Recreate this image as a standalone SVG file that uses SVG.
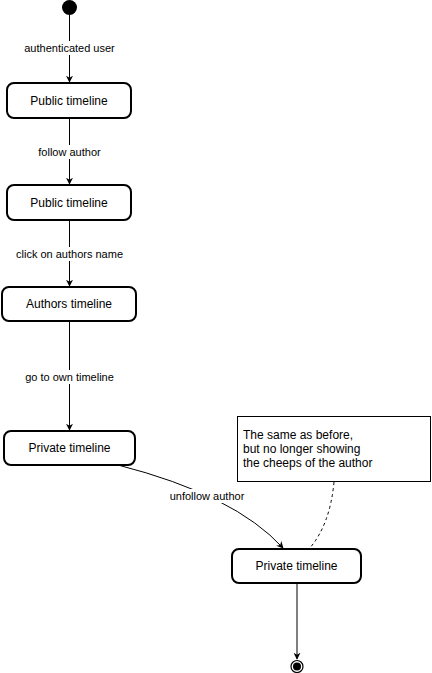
<svg xmlns="http://www.w3.org/2000/svg" width="432" height="673" viewBox="0 0 432 673">
<style>
.node rect{fill:#fff;stroke:#000;stroke-width:2}
.nt{font-family:"Liberation Sans",Arial,sans-serif;font-size:12px;fill:#000;text-anchor:middle;dominant-baseline:central}
.lbl{font-family:"Liberation Sans",Arial,sans-serif;font-size:11px;fill:#000;text-anchor:middle;dominant-baseline:central}
.lb{fill:#fff}
.edge{fill:none;stroke:#000;stroke-width:1}
.note{font-family:"Liberation Sans",Arial,sans-serif;font-size:12px;fill:#000}
</style>
<defs>
<marker id="arr" viewBox="0 0 10 10" refX="9" refY="5" markerWidth="7" markerHeight="7" markerUnits="userSpaceOnUse" orient="auto">
<path d="M0,0 L10,5 L0,10 L3,5 Z" fill="#000"/>
</marker>
</defs>
<rect width="432" height="673" fill="#fff"/>
<g id="connectors">
<path class="edge" d="M69.5,15 L69.5,82" marker-end="url(#arr)"/>
<path class="edge" d="M69.5,118 L69.5,184" marker-end="url(#arr)"/>
<path class="edge" d="M69.5,220 L69.5,286" marker-end="url(#arr)"/>
<path class="edge" d="M69.5,321 L69.5,430" marker-end="url(#arr)"/>
<path class="edge" d="M118,465 Q235,495 283,548" marker-end="url(#arr)"/>
<path class="edge" d="M297,583 L297,659" marker-end="url(#arr)"/>
<path class="edge" d="M334,482 Q330,525 309,549" stroke-dasharray="3,3"/>
<rect class="lb" x="23" y="41" width="93" height="14"/>
<text class="lbl" x="69.5" y="48">authenticated user</text>
<rect class="lb" x="36" y="145" width="67" height="14"/>
<text class="lbl" x="69.5" y="152">follow author</text>
<rect class="lb" x="14" y="247" width="111" height="14"/>
<text class="lbl" x="69.5" y="254">click on authors name</text>
<rect class="lb" x="23" y="370" width="93" height="14"/>
<text class="lbl" x="69.5" y="377">go to own timeline</text>
<rect class="lb" x="168" y="489" width="79" height="14"/>
<text class="lbl" x="207" y="496">unfollow author</text>
</g>
<g id="start"><circle cx="69.5" cy="7.5" r="7.5" fill="#000"/></g>
<g id="n1" class="node"><rect x="7" y="83" width="124" height="35" rx="7"/><text class="nt" x="69" y="100.5">Public timeline</text></g>
<g id="n2" class="node"><rect x="7" y="185" width="124" height="35" rx="7"/><text class="nt" x="69" y="202.5">Public timeline</text></g>
<g id="n3" class="node"><rect x="2" y="287" width="134" height="34" rx="7"/><text class="nt" x="69" y="304">Authors timeline</text></g>
<g id="n4" class="node"><rect x="4" y="431" width="131" height="34" rx="7"/><text class="nt" x="69.5" y="448">Private timeline</text></g>
<g id="n5" class="node"><rect x="232" y="549" width="129" height="34" rx="7"/><text class="nt" x="296.5" y="566">Private timeline</text></g>
<g id="note"><rect x="237.5" y="416.5" width="193" height="65" fill="#fff" stroke="#000" stroke-width="1"/>
<text class="note" x="243" y="439">The same as before,</text>
<text class="note" x="243" y="453">but no longer showing</text>
<text class="note" x="243" y="467">the cheeps of the author</text></g>
<g id="end"><circle cx="297" cy="666.5" r="6" fill="#fff" stroke="#000" stroke-width="1.2"/><circle cx="297" cy="666.5" r="4" fill="#000"/></g>
</svg>
